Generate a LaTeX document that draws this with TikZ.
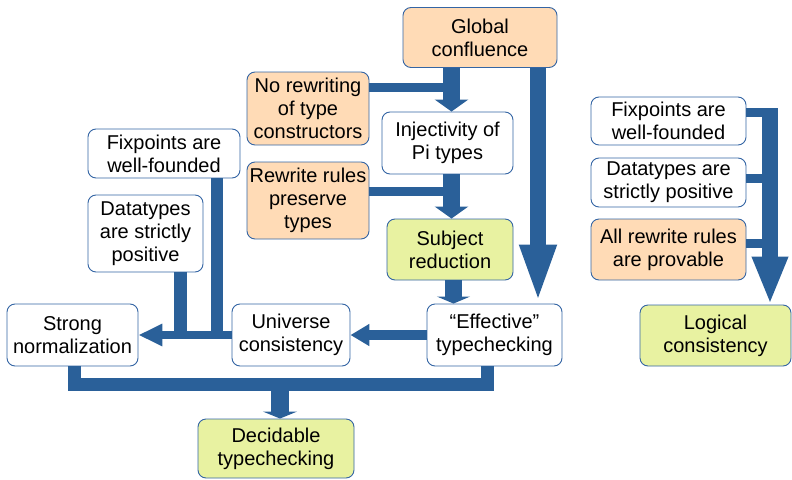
\documentclass[tikz,border=0pt]{standalone}
\usepackage{fontspec}
\setmainfont{Liberation Sans}
\usetikzlibrary{arrows.meta}
\definecolor{arrowblue}{HTML}{2A6099}
\definecolor{boxline}{HTML}{3465A4}
\definecolor{orangefill}{HTML}{FFDBB6}
\definecolor{greenfill}{HTML}{E8F2A1}
\begin{document}
\begin{tikzpicture}[x=1pt,y=-1pt,
    box/.style={draw=boxline, line width=0.9pt, rounded corners=8pt, fill=white,
        align=center, inner sep=0pt, font=\fontsize{20}{23}\selectfont},
    orangebox/.style={box, fill=orangefill},
    greenbox/.style={box, fill=greenfill},
    link/.style={draw=arrowblue, line width=#1}]
    \useasboundingbox (0,0) rectangle (792,479);

    \node[orangebox, minimum width=154pt, minimum height=60pt] (glob) at (480,37.5) {Global\\confluence};
    \node[orangebox, minimum width=122pt, minimum height=73pt] (norew) at (308,108.5) {No rewriting\\of type\\constructors};
    \node[box, minimum width=131pt, minimum height=62pt] (inj) at (447.5,143) {Injectivity of\\Pi types};
    \node[orangebox, minimum width=122pt, minimum height=77pt] (rwpres) at (308,200.5) {Rewrite rules\\preserve\\types};
    \node[greenbox, minimum width=126pt, minimum height=61pt] (subj) at (450,249.5) {Subject\\reduction};
    \node[box, minimum width=152pt, minimum height=49pt] (fixL) at (164,153.5) {Fixpoints are\\well-founded};
    \node[box, minimum width=115pt, minimum height=77pt] (dataL) at (145.5,233.5) {Datatypes\\are strictly\\positive};
    \node[box, minimum width=131pt, minimum height=62pt] (strong) at (72.5,335) {Strong\\normalization};
    \node[box, minimum width=118pt, minimum height=62pt] (univ) at (291,335) {Universe\\consistency};
    \node[box, minimum width=135pt, minimum height=62pt] (eff) at (494.5,335) {“Effective”\\typechecking};
    \node[greenbox, minimum width=156pt, minimum height=59pt] (decid) at (276,448.5) {Decidable\\typechecking};

    \node[box, minimum width=155pt, minimum height=48pt] (fixR) at (668.5,121) {Fixpoints are\\well-founded};
    \node[box, minimum width=155pt, minimum height=49pt] (dataR) at (668.5,182.5) {Datatypes are\\strictly positive};
    \node[orangebox, minimum width=155pt, minimum height=61pt] (allrw) at (668.5,249.5) {All rewrite rules\\are provable};
    \node[greenbox, minimum width=151pt, minimum height=61pt] (logic) at (715.5,335.5) {Logical\\consistency};

    % confluence side
    \draw[link=17pt, -{Triangle[length=12pt,width=33pt]}] ([xshift=4pt]inj.north |- glob.south) -- ([xshift=4pt]inj.north);
    \draw[link=9pt] ([yshift=21pt]norew.east) -- ([yshift=21pt]norew.east -| inj.north);
    \draw[link=17pt, -{Triangle[length=12pt,width=33pt]}] ([xshift=4pt]inj.south) -- ([xshift=4pt]inj.south |- subj.north);
    \draw[link=9pt] ([yshift=9.5pt]rwpres.east) -- ([yshift=9.5pt]rwpres.east -| inj.south);
    \draw[link=17pt, -{Triangle[length=7pt,width=33pt]}] ([xshift=3.5pt]subj.south) -- ([xshift=3.5pt]subj.south |- eff.north);
    \draw[link=16pt, -{Triangle[length=59pt,width=33pt]}] ([xshift=58pt]glob.south) -- ([xshift=58pt]glob.south |- eff.north);

    % typechecking row
    \draw[link=10pt, -{Triangle[length=19pt,width=21pt]}] (eff.west) -- (univ.east);
    \draw[link=8pt, -{Triangle[length=24pt,width=21pt]}] (univ.west) -- (strong.east);
    \draw[link=12pt] ([xshift=53pt]fixL.south) -- ([xshift=53pt]fixL.south |- univ.west);
    \draw[link=13pt] ([xshift=35pt]dataL.south) -- ([xshift=35pt]dataL.south |- univ.west);

    \coordinate (join) at (280,384.5);
    \draw[link=13pt] ([xshift=2pt]strong.south) |- (join) -| ([xshift=-7.5pt]eff.south);
    \draw[link=18pt, -{Triangle[length=7pt,width=34pt]}] (join) -- (join |- decid.north);

    % logical consistency
    \coordinate (rtop) at (770,108);
    \draw[link=16pt, -{Triangle[length=48pt,width=33pt]}] (rtop) -- (rtop |- logic.north);
    \draw[link=9pt] ([yshift=8.5pt]fixR.east) -- ([yshift=8.5pt]fixR.east -| rtop);
    \draw[link=9pt] ([yshift=4.5pt]dataR.east) -- ([yshift=4.5pt]dataR.east -| rtop);
    \draw[link=9pt] ([yshift=6pt]allrw.east) -- ([yshift=6pt]allrw.east -| rtop);
\end{tikzpicture}
\end{document}
